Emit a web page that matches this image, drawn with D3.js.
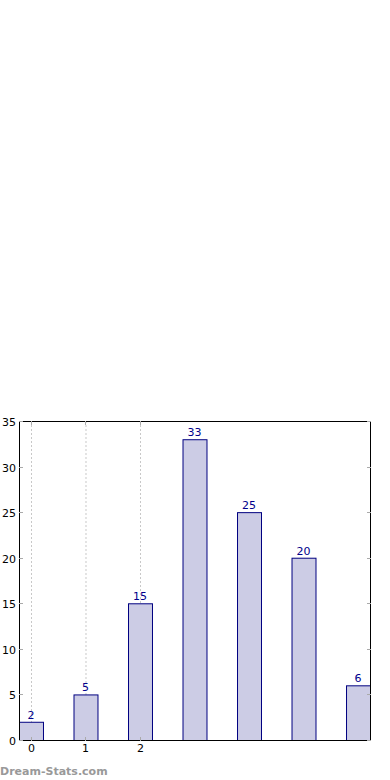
<!DOCTYPE html>
<html><head><meta charset="utf-8">
<script src="https://cdn.jsdelivr.net/npm/d3@7"></script>
<style>html,body{margin:0;padding:0;background:#fff;}svg{display:block;}</style>
</head><body>
<script>
const categories = [0, 1, 2, 3, 4, 5, 6];
const values = [2, 5, 15, 33, 25, 20, 6];
const xTickLabels = ["0", "1", "2"];
const yTicks = [0, 5, 10, 15, 20, 25, 30, 35];

const W = 390, H = 780;
const L = 19, R = 370, T = 421, B = 740;
const svg = d3.select("body").append("svg").attr("width", W).attr("height", H)
  .style("font-family", "DejaVu Sans, sans-serif");

const x = d3.scaleLinear().domain([-0.22, 6.22]).range([L, R]);
const y = d3.scaleLinear().domain([0, 35]).range([B, T]);
const half = 0.22;

// grid lines at labelled x ticks
svg.append("g").selectAll("line").data(xTickLabels).join("line")
  .attr("x1", (d, i) => x(i) + 0.5).attr("x2", (d, i) => x(i) + 0.5)
  .attr("y1", T).attr("y2", B)
  .attr("stroke", "#c8c8c8").attr("stroke-width", 1).attr("stroke-dasharray", "2,2");

// bars
svg.append("g").selectAll("rect").data(values).join("rect")
  .attr("x", (d, i) => x(categories[i] - half) + 0.5)
  .attr("y", d => y(d) + 0.5)
  .attr("width", (d, i) => x(categories[i] + half) - x(categories[i] - half))
  .attr("height", d => y(0) - y(d))
  .attr("fill", "#ccccE5").attr("stroke", "#000080").attr("stroke-width", 1);

// value labels
svg.append("g").selectAll("text").data(values).join("text")
  .attr("x", (d, i) => x(categories[i]))
  .attr("y", d => y(d) - 3)
  .attr("text-anchor", "middle").attr("font-size", 11).attr("fill", "#00008B")
  .text(d => d);

// frame
svg.append("rect").attr("x", L + 0.5).attr("y", T + 0.5)
  .attr("width", R - L).attr("height", B - T)
  .attr("fill", "none").attr("stroke", "#000").attr("stroke-width", 1);

// y ticks (inside, both sides)
const tk = svg.append("g");
yTicks.forEach(v => {
  const yy = Math.round(y(v)) + 0.5;
  tk.append("line").attr("x1", L).attr("x2", L + 4).attr("y1", yy).attr("y2", yy).attr("stroke", "#aaa");
  tk.append("line").attr("x1", R - 3).attr("x2", R + 1).attr("y1", yy).attr("y2", yy).attr("stroke", "#aaa");
  tk.append("text").attr("x", L - 3).attr("y", yy + 4).attr("text-anchor", "end")
    .attr("font-size", 11).attr("fill", "#000").text(v);
});
// x ticks
xTickLabels.forEach((lab, i) => {
  const xx = Math.round(x(i)) + 0.5;
  tk.append("line").attr("x1", xx).attr("x2", xx).attr("y1", B - 3).attr("y2", B + 1).attr("stroke", "#aaa");
  tk.append("line").attr("x1", xx).attr("x2", xx).attr("y1", T).attr("y2", T + 4).attr("stroke", "#aaa");
  tk.append("text").attr("x", xx).attr("y", B + 12).attr("text-anchor", "middle")
    .attr("font-size", 11).attr("fill", "#000").text(lab);
});

// watermark
svg.append("text").attr("x", 0).attr("y", 775).attr("font-size", 11).attr("font-weight", "bold")
  .attr("fill", "#999").text("Dream-Stats.com");
</script>
</body></html>
